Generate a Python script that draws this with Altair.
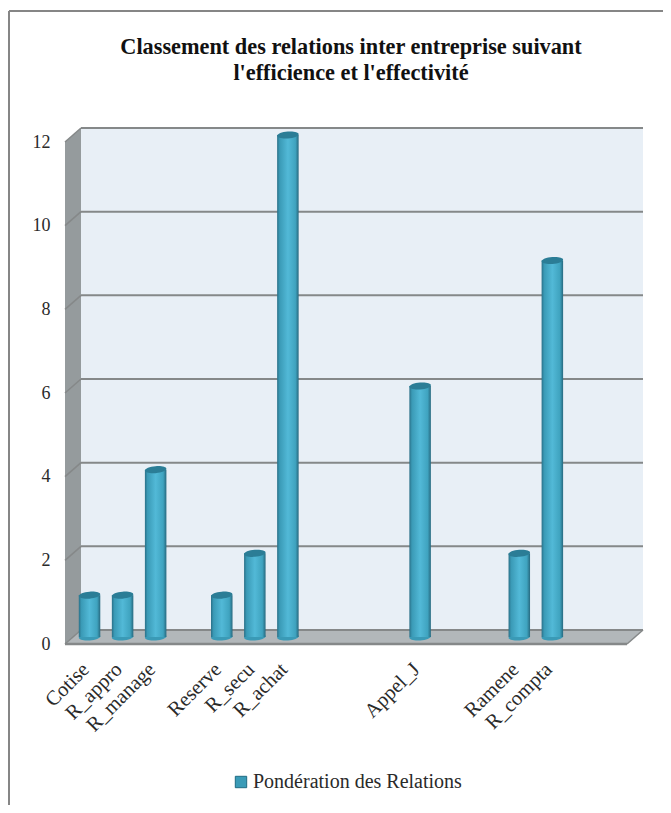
import altair as alt
import pandas as pd

labels = ["Cotise", "R_appro", "R_manage", "Reserve", "R_secu", "R_achat", "Appel_J", "Ramene", "R_compta"]
slots = [0, 1, 2, 4, 5, 6, 10, 13, 14]
values = [1, 1, 4, 1, 2, 12, 6, 2, 9]
series = "Pondération des Relations"
title_lines = ["Classement des relations inter entreprise suivant", "l'efficience et l'effectivité"]
n_slots = 17
grid_values = [0, 2, 4, 6, 8, 10, 12]
ymax = 12

W, H = 562, 502
DX = 16 / (W / n_slots)
DY = 14 / (H / ymax)
SERIF = "Liberation Serif"

df = pd.DataFrame({"x": [s + 0.5 for s in slots], "v": values, "label": labels, "series": series})

xs = alt.Scale(domain=[0, n_slots], nice=False, zero=False, padding=0)
ys = alt.Scale(domain=[0, ymax], nice=False, zero=False)
label_array = "{" + ",".join(f"'{s + 0.5}':'{l}'" for s, l in zip(slots, labels)) + "}"

x_axis = alt.Axis(
    values=[s + 0.5 for s in slots], labelExpr=f"{label_array}[toString(datum.value)]",
    labelAngle=-45, labelAlign="right", labelBaseline="middle", labelPadding=22, labelOffset=4,
    labelFont=SERIF, labelFontSize=20.5, labelColor="#2a2a2a", labelOverlap=False, labelBound=False,
    labelFlush=False, ticks=False, domain=False, grid=False, title=None,
)
y_axis = alt.Axis(
    values=grid_values, labelPadding=15, labelFont=SERIF, labelFontSize=18, labelColor="#2a2a2a",
    labelOverlap=False, labelBound=False, labelFlush=False, ticks=False, domain=False, grid=False, title=None,
)
X = alt.X("x:Q", scale=xs, axis=x_axis)
Y = alt.Y("y:Q", scale=ys, axis=y_axis)

back = alt.Chart(pd.DataFrame({"x": [DX], "x2": [n_slots + DX], "y": [DY], "y2": [ymax + DY]})).mark_rect(
    fill="#e8eff6"
).encode(X, alt.X2("x2:Q"), Y, alt.Y2("y2:Q"))

side = alt.Chart(pd.DataFrame({"x": [0, DX], "y": [0, DY], "y2": [ymax, ymax + DY]})).mark_area(
    fill="#959b9d", orient="vertical"
).encode(X, Y, alt.Y2("y2:Q"))

floor = alt.Chart(pd.DataFrame({
    "x": [0, DX, n_slots, n_slots + DX], "y": [0, DY, DY, DY], "y2": [0, 0, 0, DY]
})).mark_area(fill="#b2b7ba", orient="vertical").encode(X, Y, alt.Y2("y2:Q"))

grid_df = pd.DataFrame({"y": [v + DY for v in grid_values], "x": DX, "x2": n_slots + DX})
grid = alt.Chart(grid_df).mark_rule(color="#858889", strokeWidth=2).encode(X, alt.X2("x2:Q"), Y)

side_rows = []
for v in grid_values:
    side_rows += [{"x": 0, "y": v, "g": v}, {"x": DX, "y": v + DY, "g": v}]
side_lines = alt.Chart(pd.DataFrame(side_rows)).mark_line(color="#858889", strokeWidth=1.5).encode(
    X, Y, alt.Detail("g:N")
)

front_edge = alt.Chart(pd.DataFrame({"x": [0], "x2": [n_slots], "y": [0]})).mark_rule(
    color="#858889", strokeWidth=2.5
).encode(X, alt.X2("x2:Q"), Y)
right_edge = alt.Chart(pd.DataFrame({"x": [n_slots, n_slots + DX], "y": [0, DY]})).mark_line(
    color="#858889", strokeWidth=1.5
).encode(X, Y)

legend_layer = alt.Chart(df).mark_square(opacity=0, size=1).encode(
    alt.X("x:Q", scale=xs, axis=x_axis), alt.Y("v:Q", scale=ys, axis=y_axis),
    fill=alt.Fill("series:N", scale=alt.Scale(domain=[series], range=["#3a9bb7"]), legend=alt.Legend(
        title=None, orient="none", legendX=166, legendY=630, symbolType="square", symbolSize=130,
        symbolOpacity=1, symbolStrokeColor="#1f6b82", symbolStrokeWidth=1, labelFont=SERIF, labelFontSize=20,
        labelColor="#2a2a2a", labelLimit=300, labelOffset=2, padding=0,
    )),
)

cyl = alt.Gradient(
    gradient="linear", x1=0, x2=1, y1=0, y2=0,
    stops=[
        alt.GradientStop(offset=0, color="#2a7088"),
        alt.GradientStop(offset=0.12, color="#3a9ab6"),
        alt.GradientStop(offset=0.5, color="#52b9d7"),
        alt.GradientStop(offset=0.85, color="#3fa3bf"),
        alt.GradientStop(offset=1, color="#27697f"),
    ],
)
ELLIPSE = "M -1 0.08 A 1 0.32 -5 1 1 1 -0.08 A 1 0.32 -5 1 1 -1 0.08 Z"
BAR_W = 21.5
SZ = BAR_W ** 2
base_df = df.assign(base=0)

bottoms = alt.Chart(base_df).mark_point(
    shape=ELLIPSE, size=SZ, filled=True, fill="#3a9ab6", opacity=1, xOffset=8, yOffset=-7
).encode(alt.X("x:Q", scale=xs, axis=x_axis), alt.Y("base:Q", scale=ys, axis=y_axis))

bars = alt.Chart(base_df).mark_bar(
    size=BAR_W, fill=cyl, orient="vertical", xOffset=8, yOffset=-7, y2Offset=-7
).encode(alt.X("x:Q", scale=xs, axis=x_axis), alt.Y("v:Q", scale=ys, axis=y_axis), alt.Y2("base:Q"))

caps = alt.Chart(df).mark_point(
    shape=ELLIPSE, size=SZ, filled=True, fill="#2b7d96", opacity=1, xOffset=8, yOffset=-7
).encode(alt.X("x:Q", scale=xs, axis=x_axis), alt.Y("v:Q", scale=ys, axis=y_axis))

border_left = alt.Chart(pd.DataFrame({"a": [0]})).mark_rule(color="#868686", strokeWidth=2).encode(
    x=alt.value(-56), y=alt.value(-131), y2=alt.value(680)
)
border_top = alt.Chart(pd.DataFrame({"a": [0]})).mark_rule(color="#868686", strokeWidth=2).encode(
    y=alt.value(-131), x=alt.value(-56), x2=alt.value(640)
)

chart = alt.layer(
    back, side, floor, grid, side_lines, front_edge, right_edge, legend_layer, bottoms, bars, caps,
    border_left, border_top,
).properties(
    width=W, height=H,
    padding={"left": 57, "top": 134, "right": 36, "bottom": 161},
    autosize=alt.AutoSizeParams(type="none"),
    background="white",
    title=alt.TitleParams(
        text=title_lines, font=SERIF, fontSize=22.3, fontWeight="bold", color="#111111",
        anchor="middle", frame="group", lineHeight=26, dx=5, offset=-74,
    ),
).configure_view(stroke=None)

chart.save("out.html", embed_options={"renderer": "svg", "actions": False})
